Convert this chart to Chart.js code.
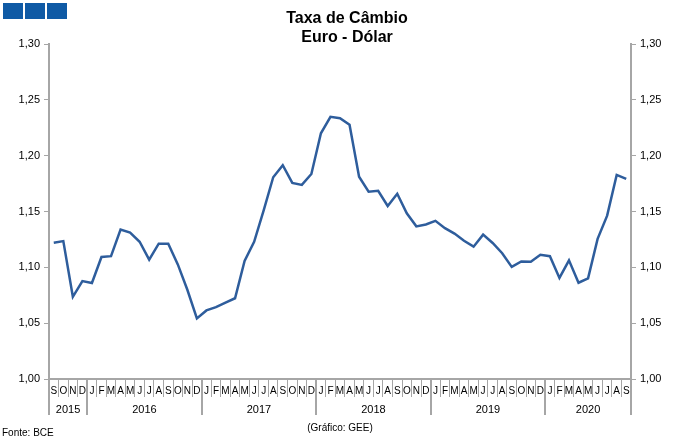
<!DOCTYPE html>
<html><head><meta charset="utf-8">
<script src="https://cdn.jsdelivr.net/npm/chart.js@4/dist/chart.umd.min.js"></script>
<style>
body{margin:0;background:#fff;}
#wrap{position:relative;width:680px;height:446px;font-family:"Liberation Sans",Arial,sans-serif;color:#000;overflow:hidden;}
canvas{position:absolute;left:0;top:0;}
.sq{position:absolute;top:3px;width:20px;height:16px;background:#0F5AA5;}
.t{position:absolute;left:247px;width:200px;text-align:center;font-weight:bold;font-size:16px;line-height:19px;white-space:nowrap;}
.f{position:absolute;font-size:10px;line-height:12px;white-space:nowrap;}
</style></head>
<body>
<div id="wrap">
<canvas id="c" width="680" height="446"></canvas>
<div class="sq" style="left:3px"></div>
<div class="sq" style="left:25px"></div>
<div class="sq" style="left:47px"></div>
<div class="t" style="top:8px">Taxa de Câmbio</div>
<div class="t" style="top:27px">Euro - Dólar</div>
<div class="f" style="left:2px;top:427px">Fonte: BCE</div>
<div class="f" style="left:240px;width:200px;text-align:center;top:422px">(Gráfico: GEE)</div>
</div>
<script>
// Month tick labels (Sep 2015 - Sep 2020)
const months = [
  'S','O','N','D',
  'J','F','M','A','M','J','J','A','S','O','N','D',
  'J','F','M','A','M','J','J','A','S','O','N','D',
  'J','F','M','A','M','J','J','A','S','O','N','D',
  'J','F','M','A','M','J','J','A','S','O','N','D',
  'J','F','M','A','M','J','J','A','S'
];
const years = ['2015','2016','2017','2018','2019','2020'];
const monthsInYear = [4,12,12,12,12,9];
// EUR/USD monthly values
const eurUsd = [
  1.1221,1.1235,1.0736,1.0877,
  1.0860,1.1093,1.1100,1.1339,1.1311,1.1229,1.1069,1.1212,1.1212,1.1026,1.0799,1.0543,
  1.0614,1.0643,1.0685,1.0723,1.1058,1.1229,1.1511,1.1807,1.1915,1.1756,1.1738,1.1836,
  1.2200,1.2348,1.2336,1.2276,1.1812,1.1678,1.1686,1.1549,1.1659,1.1484,1.1367,1.1384,
  1.1416,1.1351,1.1302,1.1238,1.1185,1.1293,1.1218,1.1126,1.1004,1.1053,1.1051,1.1113,
  1.1100,1.0905,1.1063,1.0862,1.0902,1.1255,1.1463,1.1828,1.1792
];
const yTicks = [1.00,1.05,1.10,1.15,1.20,1.25,1.30];

const AXIS = '#A6A6A6';
const FONT = '"Liberation Sans", Arial, sans-serif';

const yearPlugin = {
  id: 'years',
  afterDraw(chart) {
    const ctx = chart.ctx, xs = chart.scales.x, area = chart.chartArea;
    const band = xs.getPixelForTick(1) - xs.getPixelForTick(0);
    ctx.save();
    ctx.strokeStyle = AXIS;
    ctx.fillStyle = '#000';
    ctx.font = '11px ' + FONT;
    ctx.textAlign = 'center';
    ctx.textBaseline = 'middle';
    let s = 0;
    const bottom = area.bottom;
    years.forEach((y, k) => {
      const c = monthsInYear[k];
      const l = xs.getPixelForTick(s) - band / 2;
      const r = xs.getPixelForTick(s + c - 1) + band / 2;
      ctx.lineWidth = 2;
      ctx.beginPath();
      ctx.moveTo(Math.round(l), bottom);
      ctx.lineTo(Math.round(l), 415);
      if (k === years.length - 1) {
        ctx.moveTo(Math.round(r), bottom);
        ctx.lineTo(Math.round(r), 415);
      }
      ctx.stroke();
      ctx.fillText(y, (l + r) / 2, 410);
      s += c;
    });
    ctx.restore();
  }
};

const yAxis = (pos, w) => ({
  type: 'linear',
  position: pos,
  min: 1.0, max: 1.3,
  afterBuildTicks: s => { s.ticks = yTicks.map(v => ({value: v})); },
  afterFit: s => { s.width = w; },
  grid: { drawOnChartArea: false, drawTicks: true, tickLength: 5, color: AXIS, lineWidth: 1 },
  border: { display: true, color: AXIS, width: 2 },
  ticks: {
    color: '#000', padding: 4,
    font: { family: FONT, size: 11 },
    callback: v => v.toFixed(2).replace('.', ',')
  }
});

new Chart(document.getElementById('c'), {
  type: 'line',
  data: {
    labels: months,
    datasets: [{
      data: eurUsd,
      borderColor: '#2E5D9C',
      borderWidth: 2.5,
      pointRadius: 0,
      tension: 0,
      fill: false
    }]
  },
  options: {
    responsive: false,
    animation: false,
    devicePixelRatio: 1,
    layout: { padding: { top: 44, left: 0, right: 0, bottom: 0 } },
    plugins: { legend: { display: false }, tooltip: { enabled: false }, title: { display: false } },
    scales: {
      x: {
        type: 'category',
        offset: true,
        afterFit: s => { s.height = 67; },
        grid: { offset: true, drawOnChartArea: false, drawTicks: true, tickLength: 18, color: AXIS, lineWidth: 1 },
        border: { display: true, color: AXIS, width: 2 },
        ticks: { autoSkip: false, maxRotation: 0, minRotation: 0, padding: -12, color: '#000', font: { family: FONT, size: 10 } }
      },
      y: yAxis('left', 49),
      y2: yAxis('right', 49)
    }
  },
  plugins: [yearPlugin]
});
</script>
</body></html>
